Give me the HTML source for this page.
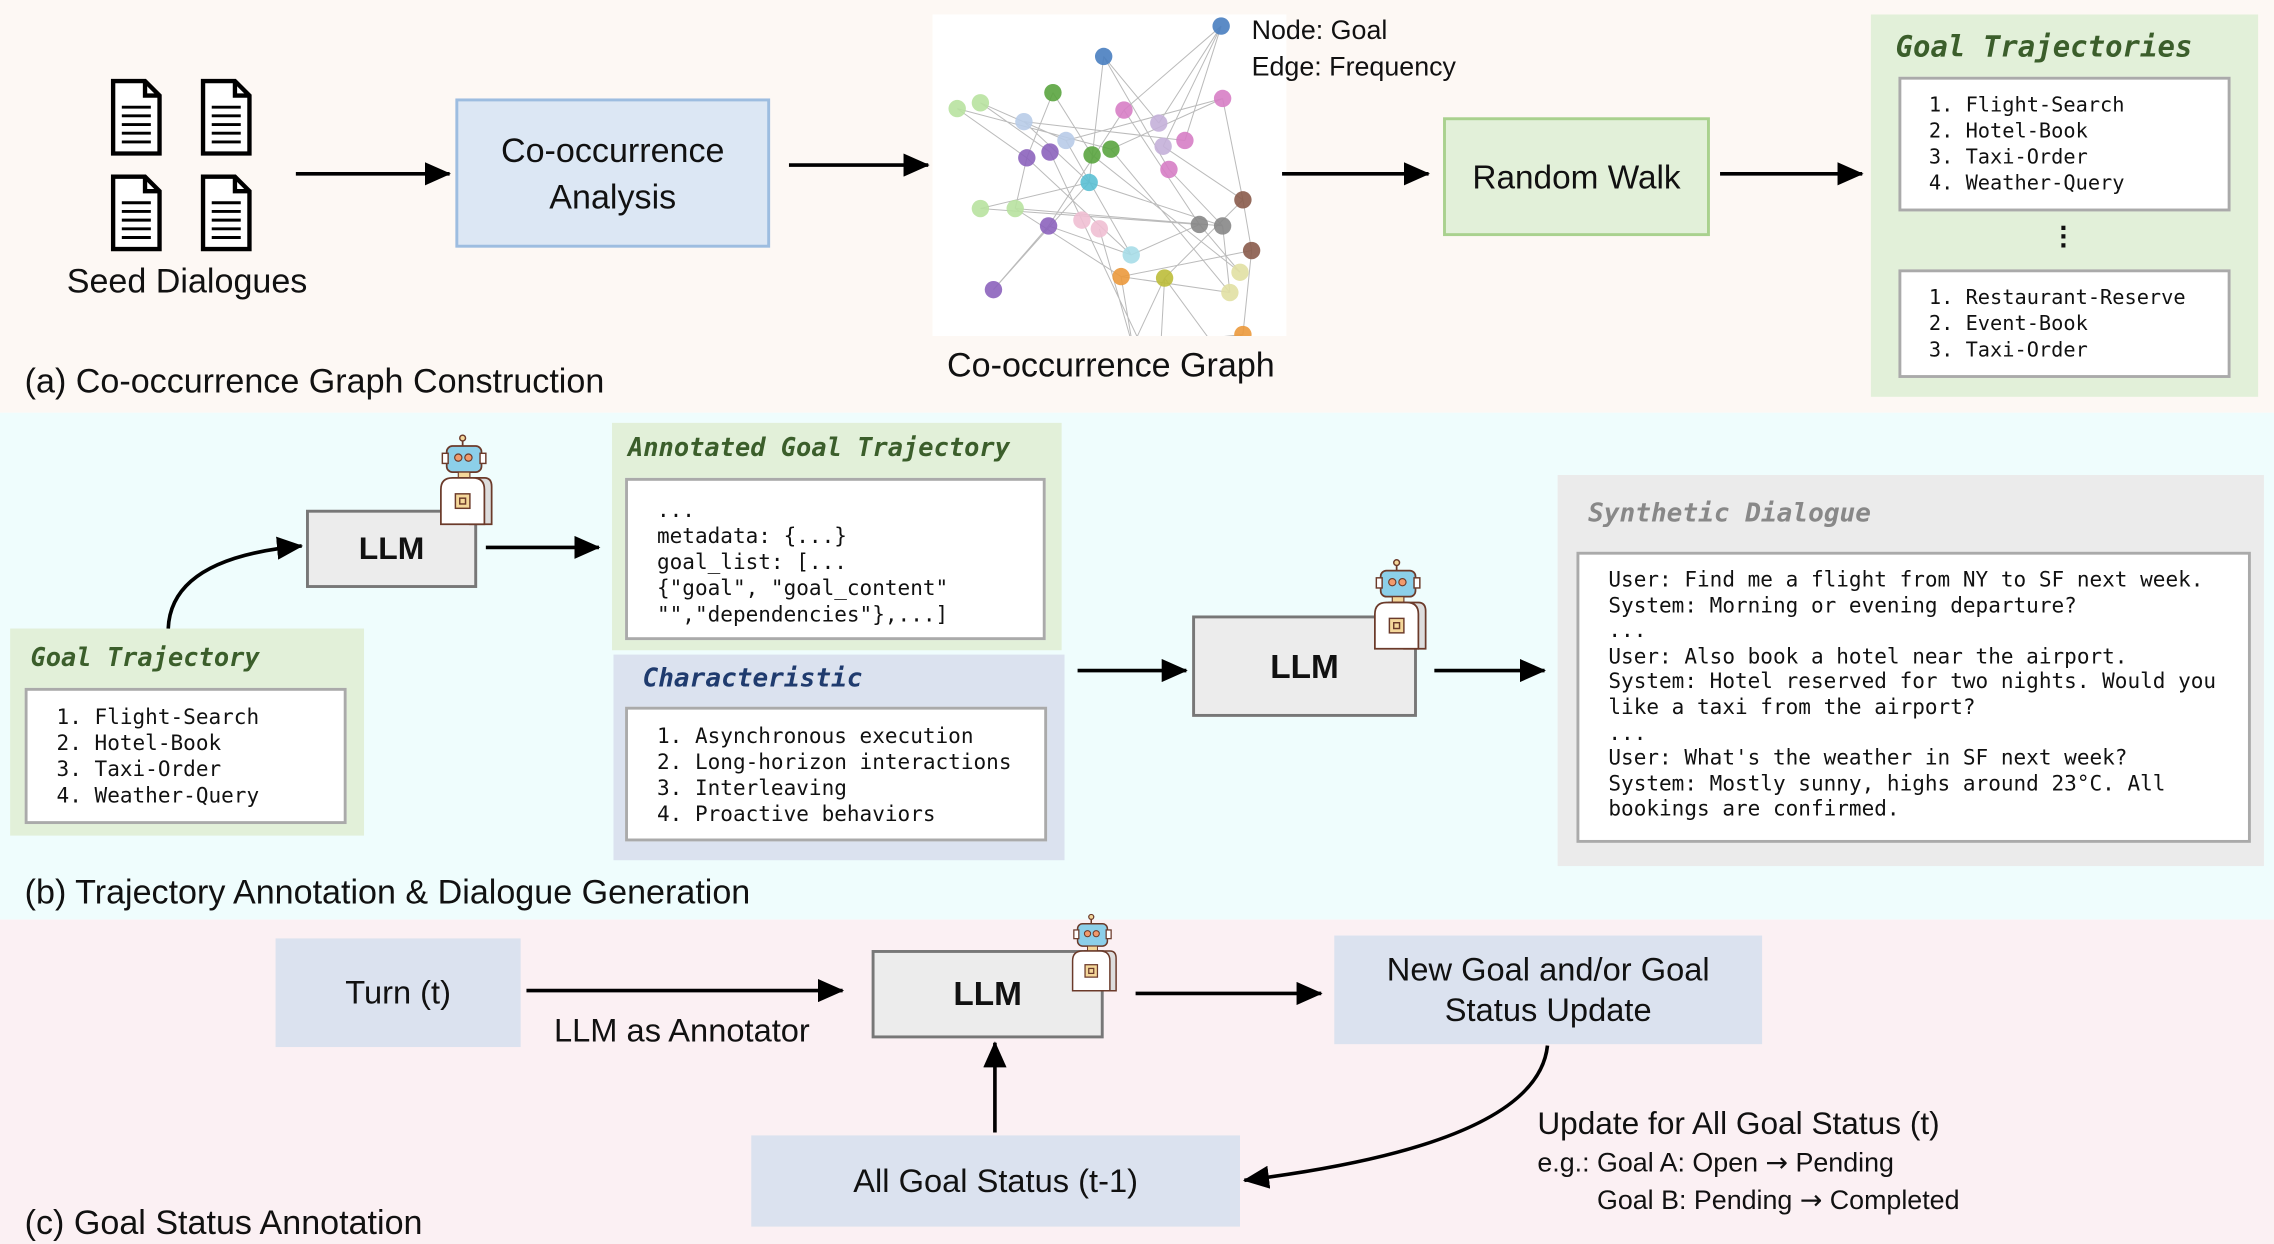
<!DOCTYPE html>
<html><head><meta charset="utf-8"><style>
html,body{margin:0;padding:0;width:2274px;height:1244px;overflow:hidden;background:#fff}
#w{position:absolute;left:0;top:0;width:1568px;height:859px;transform:scale(1.4503,1.4482);transform-origin:0 0;font-family:"Liberation Sans","DejaVu Sans",sans-serif;color:#111}
.a{position:absolute}
.box{position:absolute;box-sizing:border-box;display:flex;align-items:center;justify-content:center;text-align:center}
.mono{font-family:"DejaVu Sans Mono","Liberation Mono",monospace;font-size:14.5px;line-height:18px;white-space:pre}
.ttl{font-family:"DejaVu Sans Mono","Liberation Mono",monospace;font-style:italic;font-weight:bold;font-size:18px}
.wb{position:absolute;box-sizing:border-box;background:#fff;border:2px solid #aaa}
.llm{position:absolute;box-sizing:border-box;background:#ececec;border:2.5px solid #777;display:flex;align-items:center;justify-content:center;font-weight:bold;font-size:22px}
.lbl{position:absolute;font-size:23.5px;white-space:nowrap}
</style></head><body><div id="w">
<div class="a" style="left:0;top:0;width:1568px;height:285px;background:#fdf8f4"></div>
<div class="a" style="left:0;top:285px;width:1568px;height:350px;background:#effdfd"></div>
<div class="a" style="left:0;top:635px;width:1568px;height:224px;background:#fbf0f3"></div>

<!-- (a) -->
<svg class="a" style="left:70px;top:50px" width="120" height="130" viewBox="0 0 120 130">
<g fill="#fff" stroke="#000" stroke-width="3">
<g id="doc"><path d="M8 6 H30 L40 16 V56 H8 Z"/><path d="M30 6 V16 H40" fill="none"/><path d="M14 24H34M14 30H34M14 36H34M14 42H34M14 48H34" stroke-width="2"/></g>
<use href="#doc" x="62"/><use href="#doc" y="66"/><use href="#doc" x="62" y="66"/>
</g></svg>
<div class="lbl" style="left:46px;top:181px">Seed Dialogues</div>
<div class="box" style="left:314px;top:68px;width:217px;height:103px;background:#dce7f4;border:2px solid #9dbde0;font-size:23.5px;line-height:32px">Co-occurrence<br>Analysis</div>
<div class="a" style="left:643px;top:10px;width:244px;height:222px;background:#fff"></div>
<svg class="a" style="left:643px;top:10px" width="244" height="222">
<g stroke="#bbb" stroke-width="0.7">
<path d="M199 8 L174 87 M199 8 L132 66 M199 8 L156 75 M199 8 L159 91 M118 29 L108 116 M118 29 L156 75 M118 29 L163 107 M17 65 L65 99 M33 61 L81 95 M17 65 L123 93 M33 61 L92 87 M83 54 L65 99 M83 54 L110 97 M63 74 L108 116 M92 87 L137 166 M65 99 L137 166 M65 99 L57 134 M81 95 L103 142 M33 134 L184 145 M57 134 L200 146 M80 146 L42 190 M80 146 L137 166 M42 190 L108 116 M200 58 L214 128 M200 58 L92 87 M174 87 L63 74 M132 66 L184 145 M159 91 L214 128 M163 107 L200 146 M214 128 L220 163 M214 128 L160 182 M220 163 L214 221 M184 145 L212 178 M200 146 L205 192 M160 182 L138 229 M160 182 L156 254 M130 181 L138 229 M130 181 L220 163 M138 229 L214 221 M156 254 L214 221 M160 182 L231 279 M137 166 L184 145 M108 116 L200 146 M110 97 L212 178 M123 93 L205 192 M115 148 L138 229 M103 142 L156 254 M130 181 L205 192 M57 134 L130 181 M33 134 L108 116 M123 93 L200 58 M132 66 L80 146"/>
</g>
<g opacity="0.9">
<circle cx="199" cy="8" r="6" fill="#4a7fc0"/><circle cx="118" cy="29" r="6" fill="#4a7fc0"/>
<circle cx="200" cy="58" r="6" fill="#d77fc6"/><circle cx="174" cy="87" r="6" fill="#d77fc6"/><circle cx="132" cy="66" r="6" fill="#d77fc6"/><circle cx="163" cy="107" r="6" fill="#d77fc6"/>
<circle cx="156" cy="75" r="6" fill="#c5b1da"/><circle cx="159" cy="91" r="6" fill="#c5b1da"/>
<circle cx="83" cy="54" r="6" fill="#5aa540"/><circle cx="123" cy="93" r="6" fill="#5aa540"/><circle cx="110" cy="97" r="6" fill="#5aa540"/>
<circle cx="33" cy="61" r="6" fill="#b9e3a0"/><circle cx="17" cy="65" r="6" fill="#b9e3a0"/><circle cx="33" cy="134" r="6" fill="#b9e3a0"/><circle cx="57" cy="134" r="6" fill="#b9e3a0"/>
<circle cx="63" cy="74" r="6" fill="#b9cce8"/><circle cx="92" cy="87" r="6" fill="#b9cce8"/>
<circle cx="65" cy="99" r="6" fill="#8c63bd"/><circle cx="81" cy="95" r="6" fill="#8c63bd"/><circle cx="80" cy="146" r="6" fill="#8c63bd"/><circle cx="42" cy="190" r="6" fill="#8c63bd"/>
<circle cx="108" cy="116" r="6" fill="#5bc0d4"/><circle cx="137" cy="166" r="6" fill="#a8dde8"/>
<circle cx="103" cy="142" r="6" fill="#f0bfd3"/><circle cx="115" cy="148" r="6" fill="#f0bfd3"/>
<circle cx="214" cy="128" r="6" fill="#8a5c4c"/><circle cx="220" cy="163" r="6" fill="#8a5c4c"/>
<circle cx="184" cy="145" r="6" fill="#888"/><circle cx="200" cy="146" r="6" fill="#888"/>
<circle cx="160" cy="182" r="6" fill="#bdbd3a"/><circle cx="212" cy="178" r="6" fill="#e2e0a4"/><circle cx="205" cy="192" r="6" fill="#e2e0a4"/>
<circle cx="130" cy="181" r="6" fill="#ec9a3c"/><circle cx="214" cy="221" r="6" fill="#ec9a3c"/><circle cx="231" cy="279" r="6" fill="#ec9a3c"/>
<circle cx="138" cy="229" r="6" fill="#c73a35"/><circle cx="156" cy="254" r="6" fill="#c73a35"/>
</g></svg>
<div class="lbl" style="left:653px;top:239px">Co-occurrence Graph</div>
<div class="lbl" style="left:863px;top:8px;font-size:18.5px;line-height:25px">Node: Goal<br>Edge: Frequency</div>
<div class="box" style="left:995px;top:81px;width:184px;height:82px;background:#e2f0d9;border:2px solid #a9d18e;font-size:23px">Random Walk</div>
<div class="a" style="left:1290px;top:10px;width:267px;height:264px;background:#e2f0d9"></div>
<div class="a ttl" style="left:1307px;top:20px;font-size:20px;color:#3b5e2b">Goal Trajectories</div>
<div class="wb mono" style="left:1309px;top:53px;width:229px;height:93px;padding:9px 0 0 19px;font-size:14px">1. Flight-Search
2. Hotel-Book
3. Taxi-Order
4. Weather-Query</div>
<div class="a" style="left:1420px;top:155px;font-weight:bold;font-size:20px;line-height:6px">·<br>·<br>·</div>
<div class="wb mono" style="left:1309px;top:186px;width:229px;height:75px;padding:9px 0 0 19px;font-size:14px">1. Restaurant-Reserve
2. Event-Book
3. Taxi-Order</div>
<div class="lbl" style="left:17px;top:250px">(a) Co-occurrence Graph Construction</div>

<!-- (b) -->
<div class="llm" style="left:211px;top:352px;width:118px;height:54px">LLM</div>
<div class="a" style="left:422px;top:292px;width:310px;height:157px;background:#e2f0d9"></div>
<div class="a ttl" style="left:433px;top:300px;font-size:17.5px;color:#3b5e2b">Annotated Goal Trajectory</div>
<div class="wb mono" style="left:431px;top:330px;width:290px;height:112px;padding:12px 0 0 20px">...
metadata: {...}
goal_list: [...
{"goal", "goal_content"
"","dependencies"},...]</div>
<div class="a" style="left:423px;top:452px;width:311px;height:142px;background:#dbe2ef"></div>
<div class="a ttl" style="left:443px;top:458px;color:#1f3b6e">Characteristic</div>
<div class="wb mono" style="left:431px;top:488px;width:291px;height:93px;padding:10px 0 0 20px">1. Asynchronous execution
2. Long-horizon interactions
3. Interleaving
4. Proactive behaviors</div>
<div class="a" style="left:7px;top:434px;width:244px;height:143px;background:#e2f0d9"></div>
<div class="a ttl" style="left:21px;top:445px;font-size:17.5px;color:#3b5e2b">Goal Trajectory</div>
<div class="wb mono" style="left:17px;top:475px;width:222px;height:94px;padding:10px 0 0 20px">1. Flight-Search
2. Hotel-Book
3. Taxi-Order
4. Weather-Query</div>
<div class="llm" style="left:822px;top:425px;width:155px;height:70px;font-size:23px">LLM</div>
<div class="a" style="left:1074px;top:328px;width:487px;height:270px;background:#ebebeb"></div>
<div class="a ttl" style="left:1095px;top:344px;color:#888">Synthetic Dialogue</div>
<div class="wb mono" style="left:1087px;top:381px;width:465px;height:201px;padding:10px 0 0 20px;line-height:17.6px">User: Find me a flight from NY to SF next week.
System: Morning or evening departure?
...
User: Also book a hotel near the airport.
System: Hotel reserved for two nights. Would you
like a taxi from the airport?
...
User: What's the weather in SF next week?
System: Mostly sunny, highs around 23°C. All
bookings are confirmed.</div>
<div class="lbl" style="left:17px;top:603px">(b) Trajectory Annotation &amp; Dialogue Generation</div>

<!-- (c) -->
<div class="box" style="left:190px;top:648px;width:169px;height:75px;background:#dbe2ef;font-size:22.5px">Turn (t)</div>
<div class="lbl" style="left:382px;top:699px;font-size:22.5px">LLM as Annotator</div>
<div class="llm" style="left:601px;top:656px;width:160px;height:61px;font-size:23px">LLM</div>
<div class="box" style="left:920px;top:646px;width:295px;height:75px;background:#dbe2ef;font-size:22.5px;line-height:28px">New Goal and/or Goal<br>Status Update</div>
<div class="box" style="left:518px;top:784px;width:337px;height:63px;background:#dbe2ef;font-size:22.5px">All Goal Status (t-1)</div>
<div class="lbl" style="left:1060px;top:763px;font-size:21.8px">Update for All Goal Status (t)</div>
<div class="lbl" style="left:1060px;top:790px;font-size:18.5px;line-height:25px">e.g.: Goal A: Open <span style="font-family:'DejaVu Sans',sans-serif">→</span> Pending<br>&nbsp;&nbsp;&nbsp;&nbsp;&nbsp;&nbsp;&nbsp;&nbsp;Goal B: Pending <span style="font-family:'DejaVu Sans',sans-serif">→</span> Completed</div>
<div class="lbl" style="left:17px;top:831px">(c) Goal Status Annotation</div>

<!-- robots -->
<svg width="0" height="0" style="position:absolute"><defs>
<g id="rb">
<line x1="17" y1="2" x2="17" y2="8" stroke="#6b3a2a" stroke-width="1.2"/><circle cx="17" cy="2.5" r="2" fill="#f4d79a" stroke="#6b3a2a"/>
<rect x="6" y="8" width="24" height="18" rx="4" fill="#8ccfe9" stroke="#6b3a2a" stroke-width="1.2"/>
<rect x="3" y="13" width="4" height="7" fill="#fff" stroke="#6b3a2a"/><rect x="29" y="13" width="4" height="7" fill="#fff" stroke="#6b3a2a"/>
<circle cx="14" cy="16" r="2.5" fill="#f19a6c" stroke="#6b3a2a" stroke-width=".8"/><circle cx="21" cy="16" r="2.5" fill="#f19a6c" stroke="#6b3a2a" stroke-width=".8"/>
<rect x="14" y="26" width="8" height="4" fill="#f4d79a" stroke="#6b3a2a" stroke-width=".8"/>
<path d="M12 30 H32 Q37 30 37 36 V62 H22 Z" fill="#ddd" stroke="#6b3a2a" stroke-width="1.2"/>
<path d="M2 38 Q2 30 10 30 H24 Q32 30 32 38 V62 H2 Z" fill="#fff" stroke="#6b3a2a" stroke-width="1.2"/>
<rect x="12" y="41" width="10" height="10" fill="#f4d79a" stroke="#6b3a2a"/><rect x="15" y="44" width="4" height="4" fill="none" stroke="#6b3a2a"/>
</g></defs></svg>
<svg class="a" style="left:302px;top:300px" width="40" height="70"><use href="#rb"/></svg>
<svg class="a" style="left:946px;top:386px" width="40" height="70"><use href="#rb"/></svg>
<svg class="a" style="left:735px;top:631px" width="40" height="60" viewBox="0 0 40 70"><use href="#rb"/></svg>

<!-- arrows -->
<svg class="a" style="left:0;top:0" width="1568" height="859">
<defs><marker id="bh" markerWidth="18" markerHeight="16" refX="17" refY="8" orient="auto" markerUnits="userSpaceOnUse"><path d="M0 0 L18 8 L0 16 Z" fill="#000"/></marker></defs>
<g stroke="#000" stroke-width="2.5" fill="none" marker-end="url(#bh)">
<path d="M204 120 H310"/><path d="M544 114 H640"/><path d="M884 120 H985"/><path d="M1186 120 H1284"/>
<path d="M335 378 H413"/><path d="M116 434 Q118 385 208 377"/>
<path d="M743 463 H818"/><path d="M989 463 H1065"/>
<path d="M363 684 H581"/><path d="M783 686 H911"/><path d="M686 782 V720"/>
<path d="M1067 722 Q1060 790 858 815"/>
</g></svg>
</div></body></html>
